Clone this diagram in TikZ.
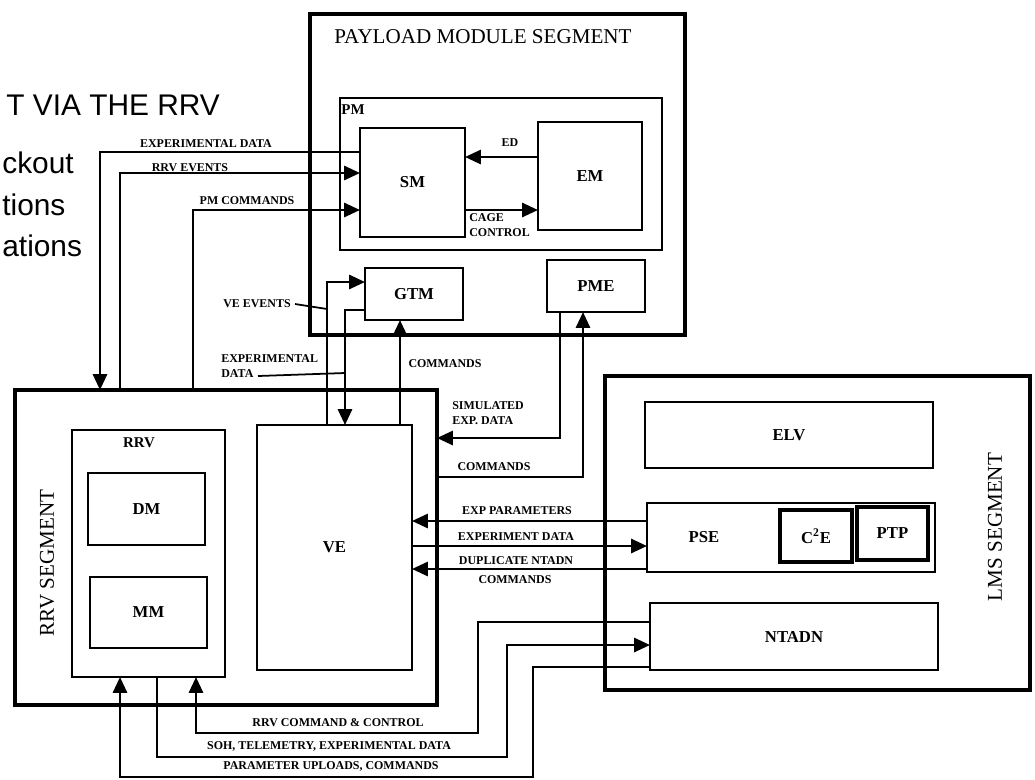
\documentclass[tikz,border=0pt]{standalone}
\usepackage{fontspec}
\setmainfont{Liberation Serif}
\newfontfamily\slidefont{Liberation Sans}
\usetikzlibrary{arrows.meta}

\begin{document}
\begin{tikzpicture}[
x=0.02cm, y=-0.02cm,
seg/.style={draw, line width=2.8pt, inner sep=0pt, outer sep=0pt},
cont/.style={draw, line width=1pt, inner sep=0pt, outer sep=0pt},
blk/.style={draw, line width=1.3pt, inner sep=0pt, outer sep=0pt,
  font=\fontsize{9.5}{11}\selectfont\bfseries},
sz/.style 2 args={minimum width=#1*0.02cm, minimum height=#2*0.02cm},
conn/.style={line width=1.4pt, -{Triangle[length=9pt,width=8pt]}},
lead/.style={line width=1pt},
lbl/.style={font=\fontsize{6.8}{8.6}\selectfont\bfseries, inner sep=0pt, align=left},
tag/.style={font=\fontsize{8.5}{10}\selectfont\bfseries, inner sep=0pt},
segtitle/.style={font=\fontsize{12}{14}\selectfont, inner sep=0pt},
slide/.style={font=\slidefont\fontsize{17}{20}\selectfont, inner sep=0pt, anchor=base west}
]

\useasboundingbox
(0,0)
rectangle
(1035,779);

% Slide text behind the figure
\node[slide] (slide1) at (6,115) {T VIA THE RRV};
\node[slide] (slide2) at (2,173) {ckout};
\node[slide] (slide3) at (2,215) {tions};
\node[slide] (slide4) at (2,256) {ations};

% Payload module segment
\node[seg, sz={375}{321}] (pmseg) at (497.5,174.5) {};
\node[segtitle] (pmsegtxt) at (483,37) {PAYLOAD MODULE SEGMENT};
\node[cont, sz={322}{152}] (pm) at (501,174) {};
\node[tag] (pmtxt) at (353,110) {PM};
\node[blk, sz={105}{109}] (sm) at (412.5,182.5) {SM};
\node[blk, sz={104}{108}] (em) at (590,176) {EM};
\node[blk, sz={98}{52}] (gtm) at (414,294) {GTM};
\node[blk, sz={98}{52}] (pme) at (596,286) {PME};

% RRV segment
\node[seg, sz={422}{315}] (rrvseg) at (226,547.5) {};
\node[segtitle, rotate=90] (rrvsegtxt) at (47,563) {RRV SEGMENT};
\node[cont, sz={153}{247}] (rrv) at (148.5,553.5) {};
\node[tag] (rrvtxt) at (139,443) {RRV};
\node[blk, sz={117}{72}] (dm) at (146.5,509) {DM};
\node[blk, sz={117}{71}] (mm) at (148.5,612.5) {MM};
\node[blk, sz={155}{245}] (ve) at (334.5,547.5) {VE};

% LMS segment
\node[seg, sz={425}{314}] (lmsseg) at (817.5,533) {};
\node[segtitle, rotate=90] (lmssegtxt) at (995,527) {LMS SEGMENT};
\node[blk, sz={288}{66}] (elv) at (789,435) {ELV};
\node[cont, sz={288}{69}] (pse) at (791,537.5) {};
\node[tag, font=\fontsize{9.5}{11}\selectfont\bfseries] (psetxt) at (704,537) {PSE};
\node[blk, line width=1.8pt, sz={72}{52}] (c2e) at (816,536) {C$^{\mathbf{2}}$E};
\node[blk, line width=1.8pt, sz={71}{53}] (ptp) at (892.5,533.5) {PTP};
\node[blk, sz={288}{67}] (ntadn) at (794,636.5) {NTADN};

% Inside the payload module
\draw[conn]
(em.west |- 0,157)
--
(sm.east |- 0,157);
\draw[conn]
(sm.east |- 0,210)
--
(em.west |- 0,210);
\node[lbl] (edtxt) at (510,143) {ED};
\node[lbl, anchor=north west] (cagetxt) at (469,213) {CAGE\\CONTROL};

% RRV to payload module
\draw[conn]
(sm.west |- 0,152)
-|
(rrvseg.north -| 100,0);
\draw[conn]
(rrvseg.north -| 120,0)
|-
(sm.west |- 0,173);
\draw[conn]
(rrvseg.north -| 193,0)
|-
(sm.west |- 0,210);
\node[lbl] (expdtxt) at (206,144) {EXPERIMENTAL DATA};
\node[lbl] (rrvevtxt) at (190,168) {RRV EVENTS};
\node[lbl] (pmcmdtxt) at (247,201) {PM COMMANDS};

% VE to GTM
\draw[conn]
(ve.north -| 327,0)
|-
(gtm.west |- 0,282);
\draw[conn]
(gtm.west |- 0,310)
-|
(ve.north -| 345,0);
\draw[conn]
(ve.north -| 400,0)
--
(gtm.south -| 400,0);
\node[lbl, anchor=east] (veevtxt) at (291,304) {VE EVENTS};
\draw[lead]
(veevtxt.east) ++(4,0)
--
(327,309);
\node[lbl, anchor=north west] (gtmdtxt) at (221,354) {EXPERIMENTAL\\DATA};
\draw[lead]
(258,376)
--
(345,373);
\node[lbl] (gtmcmdtxt) at (445,364) {COMMANDS};

% VE to PME
\draw[conn]
(pme.south -| 560,0)
|-
(rrvseg.east |- 0,438);
\draw[conn]
(rrvseg.east |- 0,477)
-|
(pme.south -| 583,0);
\node[lbl, anchor=north west] (simtxt) at (452,401) {SIMULATED\\EXP. DATA};
\node[lbl] (pmecmdtxt) at (494,467) {COMMANDS};

% VE to PSE
\draw[conn]
(pse.west |- 0,521)
--
(ve.east |- 0,521);
\draw[conn]
(ve.east |- 0,546)
--
(pse.west |- 0,546);
\draw[conn]
(pse.west |- 0,569)
--
(ve.east |- 0,569);
\node[lbl] (expptxt) at (517,511) {EXP PARAMETERS};
\node[lbl] (exdtxt) at (516,537) {EXPERIMENT DATA};
\node[lbl] (duptxt) at (516,561) {DUPLICATE NTADN};
\node[lbl] (dupcmdtxt) at (515,580) {COMMANDS};

% RRV to NTADN
\draw[conn]
(ntadn.west |- 0,622)
-| (478,733)
-| (rrv.south -| 196,0);
\draw[conn]
(rrv.south -| 157,0)
|- (507,757)
|- (ntadn.west |- 0,645);
\draw[conn]
(ntadn.west |- 0,667)
-| (533,777)
-| (rrv.south -| 120,0);
\node[lbl] (cctxt) at (338,723) {RRV COMMAND \& CONTROL};
\node[lbl] (sohtxt) at (329,746) {SOH, TELEMETRY, EXPERIMENTAL DATA};
\node[lbl] (paramtxt) at (331,766) {PARAMETER UPLOADS, COMMANDS};

\end{tikzpicture}
\end{document}
